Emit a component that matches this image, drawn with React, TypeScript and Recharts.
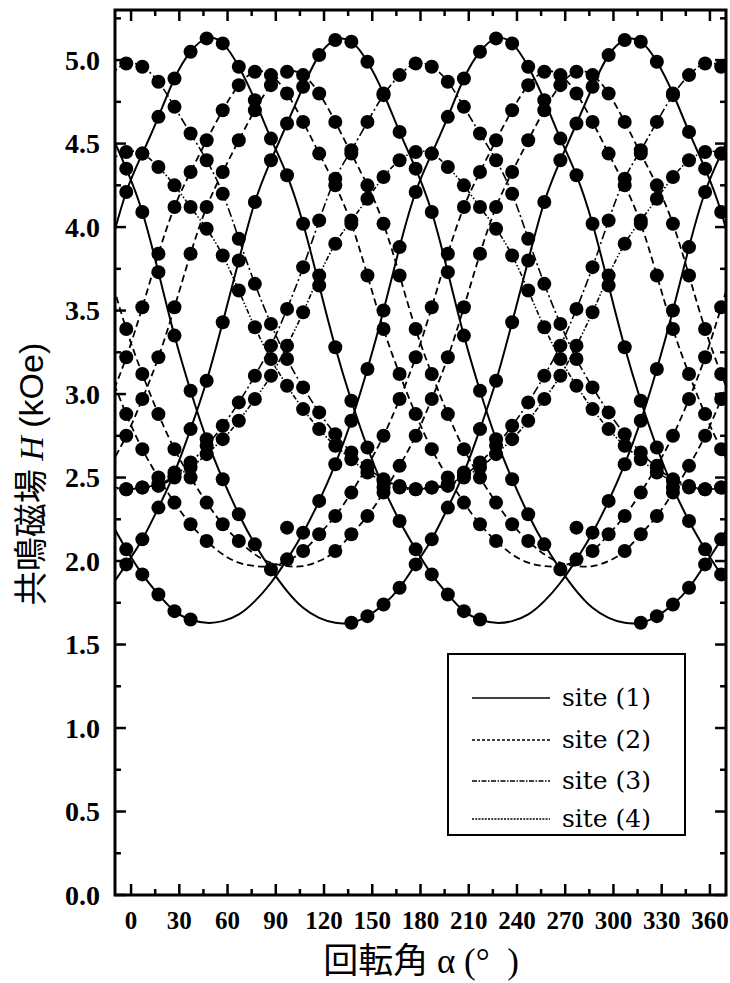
import React from "react";
import {
  ComposedChart,
  Line,
  Scatter,
  XAxis,
  YAxis,
  ReferenceLine,
  ReferenceArea,
} from "recharts";

// rotation angle of each measured column (deg); the two ends only carry the fit lines past the frame
const ANGLES = [
  -13, -3, 7, 17, 27, 37, 47, 57, 67, 77, 87, 97, 107, 117, 127, 137, 147, 157, 167, 177,
  187, 197, 207, 217, 227, 237, 247, 257, 267, 277, 287, 297, 307, 317, 327, 337, 347, 357, 367, 377,
];

// site (1), solid
const S1 = [3.88, 4.21, 4.44, 4.66, 4.89, 5.05, 5.13, 5.1, 4.96, 4.76, 4.53, 4.31, 4.02, 3.65, 3.28, 2.96, 2.68, 2.44, 2.24, 2.07, 1.92, 1.8, 1.7, 1.65, 1.63, 1.64, 1.68, 1.76, 1.87, 2.01, 2.17, 2.36, 2.58, 2.84, 3.15, 3.5, 3.88, 4.21, 4.44, 4.66];
const S2 = [1.84, 1.98, 2.13, 2.32, 2.53, 2.79, 3.08, 3.43, 3.8, 4.15, 4.4, 4.62, 4.84, 5.03, 5.12, 5.11, 4.99, 4.8, 4.57, 4.35, 4.09, 3.73, 3.35, 3.02, 2.73, 2.49, 2.28, 2.1, 1.95, 1.82, 1.72, 1.66, 1.63, 1.63, 1.67, 1.74, 1.84, 1.98, 2.13, 2.32];
const S3 = [2.24, 2.07, 1.92, 1.8, 1.7, 1.65, 1.63, 1.64, 1.68, 1.76, 1.87, 2.01, 2.17, 2.36, 2.58, 2.84, 3.15, 3.5, 3.88, 4.21, 4.44, 4.66, 4.89, 5.05, 5.13, 5.1, 4.96, 4.76, 4.53, 4.31, 4.02, 3.65, 3.28, 2.96, 2.68, 2.44, 2.24, 2.07, 1.92, 1.8];
const S4 = [4.57, 4.35, 4.09, 3.73, 3.35, 3.02, 2.73, 2.49, 2.28, 2.1, 1.95, 1.82, 1.72, 1.66, 1.63, 1.63, 1.67, 1.74, 1.84, 1.98, 2.13, 2.32, 2.53, 2.79, 3.08, 3.43, 3.8, 4.15, 4.4, 4.62, 4.84, 5.03, 5.12, 5.11, 4.99, 4.8, 4.57, 4.35, 4.09, 3.73];

// site (2), dashed
const D1 = [2.97, 3.22, 3.52, 3.84, 4.12, 4.33, 4.52, 4.7, 4.85, 4.93, 4.91, 4.8, 4.63, 4.44, 4.25, 4.02, 3.71, 3.39, 3.12, 2.88, 2.67, 2.5, 2.35, 2.22, 2.12, 2.04, 1.99, 1.97, 1.97, 2.0, 2.06, 2.16, 2.27, 2.41, 2.57, 2.75, 2.97, 3.22, 3.52, 3.84];
const D2 = [2.57, 2.75, 2.97, 3.22, 3.52, 3.84, 4.12, 4.33, 4.52, 4.7, 4.85, 4.93, 4.91, 4.8, 4.63, 4.44, 4.25, 4.02, 3.71, 3.39, 3.12, 2.88, 2.67, 2.5, 2.35, 2.22, 2.12, 2.04, 1.99, 1.97, 1.97, 2.0, 2.06, 2.16, 2.27, 2.41, 2.57, 2.75, 2.97, 3.22];
const D3 = [3.12, 2.88, 2.67, 2.5, 2.35, 2.22, 2.12, 2.04, 1.99, 1.97, 1.97, 2.0, 2.06, 2.16, 2.27, 2.41, 2.57, 2.75, 2.97, 3.22, 3.52, 3.84, 4.12, 4.33, 4.52, 4.7, 4.85, 4.93, 4.91, 4.8, 4.63, 4.44, 4.25, 4.02, 3.71, 3.39, 3.12, 2.88, 2.67, 2.5];
const D4 = [3.71, 3.39, 3.12, 2.88, 2.67, 2.5, 2.35, 2.22, 2.12, 2.04, 1.99, 1.97, 1.97, 2.0, 2.06, 2.16, 2.27, 2.41, 2.57, 2.75, 2.97, 3.22, 3.52, 3.84, 4.12, 4.33, 4.52, 4.7, 4.85, 4.93, 4.91, 4.8, 4.63, 4.44, 4.25, 4.02, 3.71, 3.39, 3.12, 2.88];

// site (3), dash-dot
const T1 = [4.91, 4.98, 4.96, 4.87, 4.72, 4.56, 4.4, 4.2, 3.93, 3.66, 3.42, 3.21, 3.04, 2.89, 2.76, 2.65, 2.56, 2.49, 2.45, 2.43, 2.44, 2.46, 2.51, 2.59, 2.69, 2.81, 2.95, 3.11, 3.29, 3.51, 3.76, 4.04, 4.29, 4.46, 4.63, 4.79, 4.91, 4.98, 4.96, 4.87];
const T2 = [2.45, 2.43, 2.44, 2.46, 2.51, 2.59, 2.69, 2.81, 2.95, 3.11, 3.29, 3.51, 3.76, 4.04, 4.29, 4.46, 4.63, 4.79, 4.91, 4.98, 4.96, 4.87, 4.72, 4.56, 4.4, 4.2, 3.93, 3.66, 3.42, 3.21, 3.04, 2.89, 2.76, 2.65, 2.56, 2.49, 2.45, 2.43, 2.44, 2.46];

// site (4), dash-dot-dot
const Q1 = [4.4, 4.45, 4.44, 4.36, 4.25, 4.12, 3.99, 3.83, 3.62, 3.4, 3.21, 3.05, 2.91, 2.79, 2.69, 2.61, 2.53, 2.48, 2.44, 2.43, 2.44, 2.45, 2.5, 2.56, 2.64, 2.73, 2.84, 2.97, 3.11, 3.29, 3.49, 3.71, 3.9, 4.04, 4.17, 4.3, 4.4, 4.45, 4.44, 4.36];
const Q2 = [2.44, 2.43, 2.44, 2.45, 2.5, 2.56, 2.64, 2.73, 2.84, 2.97, 3.11, 3.29, 3.49, 3.71, 3.9, 4.04, 4.17, 4.3, 4.4, 4.45, 4.44, 4.36, 4.25, 4.12, 3.99, 3.83, 3.62, 3.4, 3.21, 3.05, 2.91, 2.79, 2.69, 2.61, 2.53, 2.48, 2.44, 2.43, 2.44, 2.45];

// angles where a curve has no measured point
const S1_GAP = [227, 237, 247, 257, 267];
const S2_GAP = [277, 287, 297, 307];
const S3_GAP = [47, 57, 67, 77, 87];
const S4_GAP = [97, 107, 117, 127];
const D1_GAP = [237, 247, 257, 267, 277];
const D2_GAP = [257, 267, 277, 287, 297];
const D3_GAP = [57, 67, 77, 87, 97];
const D4_GAP = [77, 87, 97, 107, 117];

// stray points off every curve
const STRAY_ANGLES = [97, 277];
const STRAY_FIELDS = [2.2, 2.2];

const X_MAJOR = [0, 30, 60, 90, 120, 150, 180, 210, 240, 270, 300, 330, 360];
const X_MINOR = [15, 45, 75, 105, 135, 165, 195, 225, 255, 285, 315, 345];
const Y_MAJOR = [0, 0.5, 1, 1.5, 2, 2.5, 3, 3.5, 4, 4.5, 5];
const Y_MINOR = [0.25, 0.75, 1.25, 1.75, 2.25, 2.75, 3.25, 3.75, 4.25, 4.75, 5.25];

const SITE_LABELS = ["site (1)", "site (2)", "site (3)", "site (4)"];

const X_MIN = -10;
const X_MAX = 370;
const Y_MAX = 5.3;

const SITE_STYLE: Record<number, { dash?: string; width: number; legendDash?: string }> = {
  1: { width: 2, legendDash: undefined },
  2: { dash: "7 4", width: 1.8, legendDash: "3 2" },
  3: { dash: "9 3 2 3", width: 1.6, legendDash: "5 1.5 1.5 1.5" },
  4: { dash: "5 2 1.5 2 1.5 2", width: 1.6, legendDash: "2 1.2" },
};

const CURVES = [
  { key: "s1", site: 1, values: S1, gap: S1_GAP },
  { key: "s2", site: 1, values: S2, gap: S2_GAP },
  { key: "s3", site: 1, values: S3, gap: S3_GAP },
  { key: "s4", site: 1, values: S4, gap: S4_GAP },
  { key: "d1", site: 2, values: D1, gap: D1_GAP },
  { key: "d2", site: 2, values: D2, gap: D2_GAP },
  { key: "d3", site: 2, values: D3, gap: D3_GAP },
  { key: "d4", site: 2, values: D4, gap: D4_GAP },
  { key: "t1", site: 3, values: T1, gap: [] as number[] },
  { key: "t2", site: 3, values: T2, gap: [] as number[] },
  { key: "q1", site: 4, values: Q1, gap: [] as number[] },
  { key: "q2", site: 4, values: Q2, gap: [] as number[] },
];

const rows = ANGLES.map((a, i) => {
  const row: Record<string, number> = { a };
  CURVES.forEach((c) => {
    row[c.key] = c.values[i];
  });
  return row;
});

const strays = STRAY_ANGLES.map((a, i) => ({ a, h: STRAY_FIELDS[i] }));

const DOT_R = 7;
// tick lengths in data units (about 11px / 6px)
const XT_MAJ = 0.066;
const XT_MIN = 0.036;
const YT_MAJ = 6.8;
const YT_MIN = 3.7;

const makeDot = (gap: number[]) => (props: any) => {
  const { cx, cy, payload, index } = props;
  const a = payload?.a;
  if (cx == null || cy == null || a < X_MIN || a > X_MAX || gap.includes(a)) {
    return <g key={`n-${index}`} />;
  }
  return <circle key={`d-${index}`} cx={cx} cy={cy} r={DOT_R} fill="#000" />;
};

const XTick = (props: any) => {
  const { x, y, payload } = props;
  return (
    <text
      x={x}
      y={y}
      dy="0.71em"
      textAnchor="middle"
      fontFamily="'Liberation Serif', serif"
      fontWeight="bold"
      fontSize={25}
      fill="#000"
    >
      {payload.value}
    </text>
  );
};

const YTick = (props: any) => {
  const { x, y, payload } = props;
  return (
    <text
      x={x}
      y={y}
      dy="0.35em"
      textAnchor="end"
      fontFamily="'Liberation Serif', serif"
      fontWeight="bold"
      fontSize={28}
      fill="#000"
    >
      {Number(payload.value).toFixed(1)}
    </text>
  );
};

function LegendBox() {
  const rowY = [43, 85, 126, 164];
  return (
    <div
      style={{
        position: "absolute",
        left: 447,
        top: 653,
        width: 239,
        height: 183,
        border: "2px solid #000",
        boxSizing: "border-box",
        background: "#fff",
      }}
    >
      <svg width={235} height={179} style={{ position: "absolute", left: 0, top: 0, overflow: "visible" }}>
        {SITE_LABELS.map((label, i) => {
          const st = SITE_STYLE[i + 1];
          return (
            <g key={label}>
              <line
                x1={23}
                x2={101}
                y1={rowY[i]}
                y2={rowY[i]}
                stroke="#000"
                strokeWidth={1.6}
                strokeDasharray={st.legendDash}
              />
              <text
                x={113}
                y={rowY[i]}
                dy="0.3em"
                fontFamily="'DejaVu Serif', serif"
                fontSize={25}
                fill="#000"
              >
                {label}
              </text>
            </g>
          );
        })}
      </svg>
    </div>
  );
}

export default function App() {
  return (
    <div style={{ position: "absolute", left: 0, top: 0, width: 730, height: 983, background: "#fff" }}>
      <ComposedChart
        width={730}
        height={983}
        data={rows}
        margin={{ top: 10, right: 4, bottom: 0, left: 0 }}
      >
        <XAxis
          dataKey="a"
          type="number"
          domain={[X_MIN, X_MAX]}
          ticks={X_MAJOR}
          interval={0}
          allowDataOverflow
          axisLine={false}
          tickLine={false}
          tickSize={0}
          tickMargin={16}
          height={88}
          tick={<XTick />}
        />
        <YAxis
          type="number"
          domain={[0, Y_MAX]}
          ticks={Y_MAJOR}
          interval={0}
          allowDataOverflow
          axisLine={false}
          tickLine={false}
          tickSize={0}
          tickMargin={15}
          width={115}
          tick={<YTick />}
        />

        {CURVES.map((c) => {
          const st = SITE_STYLE[c.site];
          return (
            <Line
              key={c.key}
              dataKey={c.key}
              type="natural"
              stroke="#000"
              strokeWidth={st.width}
              strokeDasharray={st.dash}
              dot={makeDot(c.gap)}
              activeDot={false}
              legendType="none"
              isAnimationActive={false}
            />
          );
        })}
        <Scatter
          data={strays}
          dataKey="h"
          isAnimationActive={false}
          shape={(p: any) => <circle cx={p.cx} cy={p.cy} r={DOT_R} fill="#000" />}
        />

        {X_MAJOR.map((v) => (
          <ReferenceLine key={`xb${v}`} segment={[{ x: v, y: 0 }, { x: v, y: XT_MAJ }]} stroke="#000" strokeWidth={2.5} />
        ))}
        {X_MINOR.map((v) => (
          <ReferenceLine key={`xbm${v}`} segment={[{ x: v, y: 0 }, { x: v, y: XT_MIN }]} stroke="#000" strokeWidth={2.5} />
        ))}
        {X_MAJOR.map((v) => (
          <ReferenceLine key={`xt${v}`} segment={[{ x: v, y: Y_MAX }, { x: v, y: Y_MAX - XT_MAJ }]} stroke="#000" strokeWidth={2.5} />
        ))}
        {X_MINOR.map((v) => (
          <ReferenceLine key={`xtm${v}`} segment={[{ x: v, y: Y_MAX }, { x: v, y: Y_MAX - XT_MIN }]} stroke="#000" strokeWidth={2.5} />
        ))}
        {Y_MAJOR.map((v) => (
          <ReferenceLine key={`yl${v}`} segment={[{ x: X_MIN, y: v }, { x: X_MIN + YT_MAJ, y: v }]} stroke="#000" strokeWidth={2.5} />
        ))}
        {Y_MINOR.map((v) => (
          <ReferenceLine key={`ylm${v}`} segment={[{ x: X_MIN, y: v }, { x: X_MIN + YT_MIN, y: v }]} stroke="#000" strokeWidth={2.5} />
        ))}
        {Y_MAJOR.map((v) => (
          <ReferenceLine key={`yr${v}`} segment={[{ x: X_MAX, y: v }, { x: X_MAX - YT_MAJ, y: v }]} stroke="#000" strokeWidth={2.5} />
        ))}
        {Y_MINOR.map((v) => (
          <ReferenceLine key={`yrm${v}`} segment={[{ x: X_MAX, y: v }, { x: X_MAX - YT_MIN, y: v }]} stroke="#000" strokeWidth={2.5} />
        ))}
        <ReferenceArea
          x1={X_MIN}
          x2={X_MAX}
          y1={0}
          y2={Y_MAX}
          fill="none"
          fillOpacity={0}
          stroke="#000"
          strokeWidth={3}
          ifOverflow="visible"
        />
      </ComposedChart>

      <LegendBox />

      <div
        style={{
          position: "absolute",
          left: 31,
          top: 474,
          transform: "translate(-50%, -50%) rotate(-90deg)",
          whiteSpace: "nowrap",
          fontSize: 34,
          lineHeight: 1.3,
          color: "#000",
        }}
      >
        <span style={{ fontFamily: "'Noto Sans CJK JP', sans-serif" }}>共鳴磁場</span>{" "}
        <i style={{ fontFamily: "'Liberation Serif', serif" }}>H</i>{" "}
        <span style={{ fontFamily: "'Liberation Sans', sans-serif" }}>(kOe)</span>
      </div>

      <div
        style={{
          position: "absolute",
          left: 421,
          top: 960,
          transform: "translate(-50%, -50%)",
          whiteSpace: "nowrap",
          fontSize: 35,
          lineHeight: 1.3,
          color: "#000",
        }}
      >
        <span style={{ fontFamily: "'Noto Sans CJK JP', sans-serif" }}>回転角</span>{" "}
        <span style={{ fontFamily: "'Liberation Serif', serif" }}>α (°&nbsp;&nbsp;)</span>
      </div>
    </div>
  );
}
